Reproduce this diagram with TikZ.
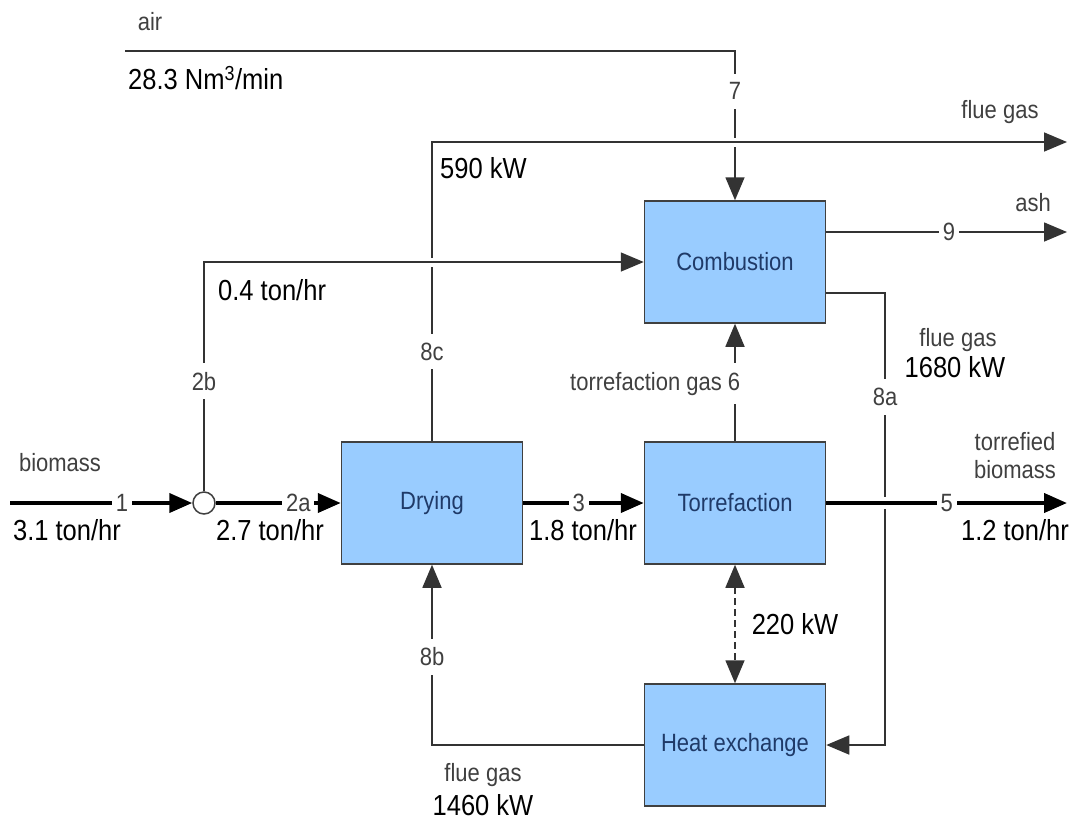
\documentclass[tikz,border=0pt]{standalone}
\usepackage{fontspec}
\setmainfont[FakeStretch=0.88]{Liberation Sans}
\usepackage{tikz}
\usetikzlibrary{arrows.meta, positioning}

\definecolor{unitfill}{HTML}{99CCFF}
\definecolor{unittext}{HTML}{1F3A68}
\definecolor{tagtext}{HTML}{404040}

\tikzset{
  unit/.style={draw=black!75, line width=1.5pt, fill=unitfill, text=unittext,
    minimum width=181pt, minimum height=122pt, inner sep=0pt,
    font=\fontsize{25}{29}\selectfont},
  gasline/.style={draw=black!80, line width=1.6pt},
  solidline/.style={draw=black, line width=4pt},
  flow/.style={-{Triangle[length=23pt 0 0, width=19pt 0 0]}},
  bothflow/.style={{Triangle[length=23pt 0 0, width=19pt 0 0]}-{Triangle[length=23pt 0 0, width=19pt 0 0]}},
  bridge/.style={preaction={draw=white, line width=#1, arrows=-,
    shorten <=3pt, shorten >=26pt}},
  tag/.style={fill=white, text=tagtext, inner xsep=4pt, inner ysep=9pt,
    font=\fontsize{25}{28}\selectfont},
  stream/.style={text=tagtext, inner sep=0pt, font=\fontsize{25}{28}\selectfont},
  val/.style={text=black, inner sep=0pt, font=\fontsize{29}{31}\selectfont}
}

\begin{document}
\begin{tikzpicture}[x=1pt, y=-1pt]
\useasboundingbox (0,0) rectangle (1079,823);

% process units
\node[unit] (comb) at (735,262) {Combustion};
\node[unit] (torr) at (735,503) {Torrefaction};
\node[unit] (dry) at (432,503) {Drying};
\node[unit] (hx) at (735,745) {Heat exchange};
\node[circle, draw=black!75, fill=white, line width=1.5pt, minimum size=22pt, inner sep=0pt] (mix) at (204,503) {};

% free ends
\coordinate (bioin) at (10,503);
\coordinate (airin) at (125,51);
\coordinate (fgout) at (1067,142);
\coordinate (ashout) at (1067,232);
\coordinate (torrout) at (1067,503);
\coordinate (fgturn) at (885,293);

% air (7)
\draw[gasline, flow] (airin) -- (airin -| comb.north) -- node[tag, pos=0.27] {7} (comb.north);
% flue gas to stack (8c)
\draw[gasline, flow, bridge=9pt] (dry.north) -- node[tag, pos=0.30] {8c} (dry.north |- fgout) -- (fgout);
% biomass split (2b)
\draw[gasline, flow, bridge=9pt] (mix.north) -- node[tag, pos=0.48] {2b} (mix.north |- comb.west) -- (comb.west);
% ash (9)
\draw[gasline, flow] ([yshift=30pt]comb.east) -- node[tag, pos=0.51] {9} (ashout);
% flue gas to heat exchange (8a)
\draw[gasline, flow] ([yshift=-31pt]comb.east) -- (fgturn) -- node[tag, pos=0.23] {8a} (fgturn |- hx.east) -- (hx.east);
% torrefaction gas (6)
\draw[gasline, flow] (torr.north) -- node[tag, pos=0.49, anchor=east, xshift=10pt] {torrefaction gas 6} (comb.south);
% heat to torrefaction
\draw[gasline, dash pattern=on 7pt off 4pt, bothflow] (torr.south) -- node[val, pos=0.5, anchor=west, xshift=16pt] {220 kW} (hx.north);
% flue gas to drying (8b)
\draw[gasline, flow] (hx.west) -- (hx.west -| dry.south) -- node[tag, pos=0.49] {8b} (dry.south);

% solid stream
\draw[solidline, flow] (bioin) -- node[tag, pos=0.615] {1} (mix.west);
\draw[solidline, flow] (mix.east) -- node[tag, pos=0.66] {2a} (dry.west);
\draw[solidline, flow] (dry.east) -- node[tag, pos=0.46] {3} (torr.west);
\draw[solidline, flow, bridge=12pt] (torr.east) -- node[tag, pos=0.5] {5} (torrout);

% stream labels
\node[stream] (airlbl) at (150,22) {air};
\node[val, anchor=west] (airrate) at (128,78) {28.3 Nm\textsuperscript{3}/min};
\node[val, anchor=west] (stackheat) at (440,168) {590 kW};
\node[stream] (stacklbl) at (1000,112) {flue gas};
\node[stream] (ashlbl) at (1033,203) {ash};
\node[stream] (fgalbl) at (958,340) {flue gas};
\node[val] (fgaheat) at (955,367) {1680 kW};
\node[stream, align=center] (prodlbl) at (1015,456) {torrefied\\biomass};
\node[val] (prodrate) at (1015,530) {1.2 ton/hr};
\node[stream] (biolbl) at (60,463) {biomass};
\node[val] (biorate) at (67,530) {3.1 ton/hr};
\node[val] (splitrate) at (270,530) {2.7 ton/hr};
\node[val, anchor=west] (fuelrate) at (218,290) {0.4 ton/hr};
\node[val] (dryrate) at (583,530) {1.8 ton/hr};
\node[stream] (fgblbl) at (483,775) {flue gas};
\node[val] (fgbheat) at (483,805) {1460 kW};
\end{tikzpicture}
\end{document}
